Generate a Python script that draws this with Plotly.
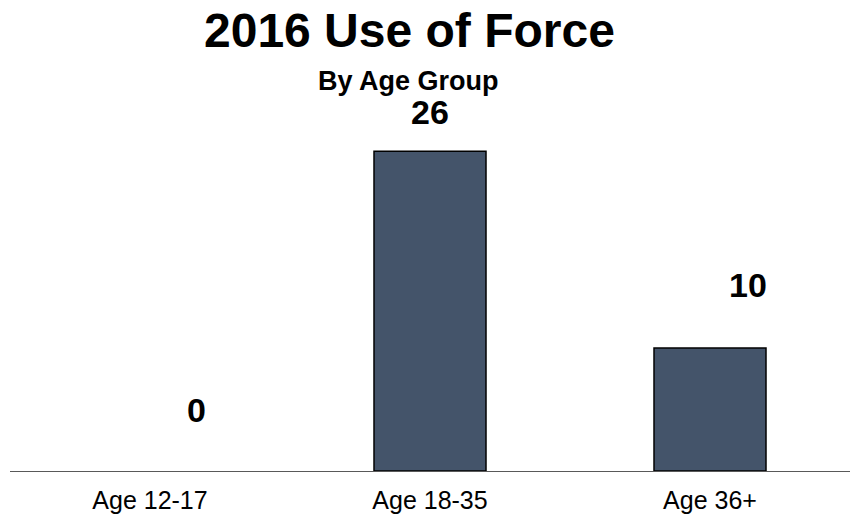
import plotly.graph_objects as go

categories = ["Age 12-17", "Age 18-35", "Age 36+"]
values = [0, 26, 10]
label_xshift = [46, 0, 38]
label_yshift = [61, 39, 63]

W, H = 850, 516
left, right = 10, 0
top, bottom = 102, 45
plot_h = H - top - bottom
plot_w = W - left - right
ymax = 30

def py_to_paper(py):
    return (H - bottom - py) / plot_h

def px_to_paper(px):
    return (px - left) / plot_w

fig = go.Figure()
fig.add_trace(go.Bar(
    x=categories, y=values, width=0.4,
    marker=dict(color="#44546A",
                line=dict(color="#000000", width=[1.5 if v > 0 else 0 for v in values])),
    hoverinfo="skip",
))

annotations = []
for c, v, dx, dy in zip(categories, values, label_xshift, label_yshift):
    annotations.append(dict(
        x=c, y=v, xref="x", yref="y", text=f"<b>{v}</b>", showarrow=False,
        xanchor="center", yanchor="middle", xshift=dx, yshift=dy,
        font=dict(family="Liberation Sans, Arial", size=34, color="#000000"),
    ))

annotations.append(dict(
    x=px_to_paper(409), xref="paper", y=py_to_paper(31), yref="paper",
    text="<b>2016 Use of Force</b>",
    showarrow=False, xanchor="center", yanchor="middle",
    font=dict(family="Liberation Sans, Arial", size=48, color="#000000"),
))
annotations.append(dict(
    x=px_to_paper(408), xref="paper", y=py_to_paper(81), yref="paper",
    text="<b>By Age Group</b>",
    showarrow=False, xanchor="center", yanchor="middle",
    font=dict(family="Liberation Sans, Arial", size=27, color="#000000"),
))

fig.update_layout(
    width=W, height=H,
    margin=dict(l=left, r=right, t=top, b=bottom, pad=0),
    paper_bgcolor="white", plot_bgcolor="white",
    showlegend=False,
    annotations=annotations,
    xaxis=dict(
        showline=True, linecolor="#595959", linewidth=1, showgrid=False, zeroline=False,
        ticks="", ticklabelstandoff=7,
        tickfont=dict(family="Liberation Sans, Arial", size=25, color="#000000"),
    ),
    yaxis=dict(range=[0, ymax], visible=False, showgrid=False, zeroline=False),
)

fig.write_html(
    "out.html",
    config={"displayModeBar": False},
    post_script="document.body.style.margin='0';document.body.style.overflow='hidden';",
)
